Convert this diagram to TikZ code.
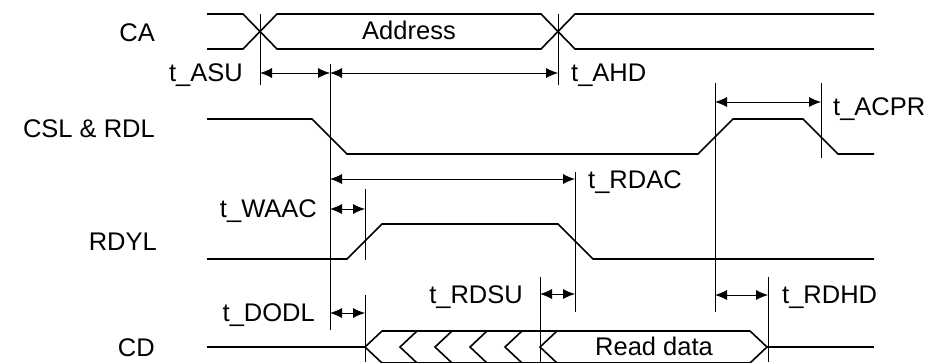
\documentclass[tikz,border=0pt]{standalone}
\usepackage{fontspec}
\setmainfont{Liberation Sans}
\usetikzlibrary{arrows.meta}
\begin{document}
\begin{tikzpicture}[x=1pt,y=-1pt,
  sig/.style={line width=1.6pt, line join=miter},
  guide/.style={line width=0.8pt},
  dim/.style={line width=0.8pt, {Latex[length=12pt,width=10pt]}-{Latex[length=12pt,width=10pt]}},
  lbl/.style={inner sep=0pt, font=\fontsize{25.5}{30}\selectfont}]
\useasboundingbox (0,0) rectangle (941,362);
\clip (0,0) rectangle (941,362);

% signal names
\node[lbl, anchor=base east] (nCA)  at (155,41)  {CA};
\node[lbl, anchor=base east] (nCSL) at (155,137) {CSL \& RDL};
\node[lbl, anchor=base east] (nRDY) at (157,250) {RDYL};
\node[lbl, anchor=base east] (nCD)  at (155,356) {CD};

% CA bus
\draw[sig] (207,14) -- (243,14) -- (277,49) -- (541,49) -- (575,14) -- (874,14);
\draw[sig] (207,49) -- (243,49) -- (277,14) -- (541,14) -- (575,49) -- (874,49);
\node[lbl, anchor=base] (addr) at (409,39.5) {Address};

% CSL & RDL
\draw[sig] (207,119) -- (312,119) -- (347,154) -- (698,154) -- (733,119) -- (803,119) -- (838,154) -- (874,154);

% RDYL
\draw[sig] (207,259) -- (347,259) -- (382,224) -- (558,224) -- (593,259) -- (874,259);

% CD bus
\draw[sig] (207,347) -- (365,347);
\foreach \x in {365,400,435,470,505,540}
  \draw[sig] (\x+17,331) -- (\x,347) -- (\x+17,363);
\draw[sig] (382,331) -- (750,331) -- (767,347) -- (750,363) -- (382,363);
\draw[sig] (767,347) -- (874,347);
\node[lbl, anchor=base] (rd) at (654,355) {Read data};

% guide lines
\coordinate (g1t) at (260,14);  \coordinate (g1b) at (260,85);
\coordinate (g2t) at (330,64);  \coordinate (g2b) at (330,330);
\coordinate (g3t) at (558,14);  \coordinate (g3b) at (558,85);
\coordinate (g4t) at (715,83);  \coordinate (g4b) at (715,312);
\coordinate (g5t) at (821,83);  \coordinate (g5b) at (821,158);
\coordinate (g6t) at (575,172); \coordinate (g6b) at (575,312);
\coordinate (g7t) at (365,189); \coordinate (g7b) at (365,260);
\coordinate (g8t) at (365,295); \coordinate (g8b) at (365,362);
\coordinate (g9t) at (540,277); \coordinate (g9b) at (540,362);
\coordinate (g10t) at (768,277); \coordinate (g10b) at (768,362);
\foreach \g in {1,...,10} \draw[guide] (g\g t) -- (g\g b);

% dimension arrows
\coordinate (asuA) at (260,73); \coordinate (asuB) at (330,73);
\coordinate (ahdB) at (558,73);
\coordinate (acpA) at (715,102); \coordinate (acpB) at (821,102);
\coordinate (rdacA) at (330,179); \coordinate (rdacB) at (575,179);
\coordinate (waaA) at (330,209); \coordinate (waaB) at (365,209);
\coordinate (dodA) at (330,313); \coordinate (dodB) at (365,313);
\coordinate (rdsA) at (540,294); \coordinate (rdsB) at (575,294);
\coordinate (rdhA) at (715,295); \coordinate (rdhB) at (768,295);
\draw[dim] (asuA) -- (asuB);
\draw[dim] (asuB) -- (ahdB);
\draw[dim] (acpA) -- (acpB);
\draw[dim] (rdacA) -- (rdacB);
\draw[dim] (waaA) -- (waaB);
\draw[dim] (dodA) -- (dodB);
\draw[dim] (rdsA) -- (rdsB);
\draw[dim] (rdhA) -- (rdhB);

% timing labels
\node[lbl, anchor=base east] (tASU)  at (243,81.5) {t\_ASU};
\node[lbl, anchor=base west] (tAHD)  at (571,81.5) {t\_AHD};
\node[lbl, anchor=base west] (tACPR) at (833,115)  {t\_ACPR};
\node[lbl, anchor=base west] (tRDAC) at (588,188)  {t\_RDAC};
\node[lbl, anchor=base east] (tWAAC) at (317,217)  {t\_WAAC};
\node[lbl, anchor=base east] (tRDSU) at (523,303)  {t\_RDSU};
\node[lbl, anchor=base east] (tDODL) at (315,321.5) {t\_DODL};
\node[lbl, anchor=base west] (tRDHD) at (782,303)  {t\_RDHD};
\end{tikzpicture}
\end{document}
